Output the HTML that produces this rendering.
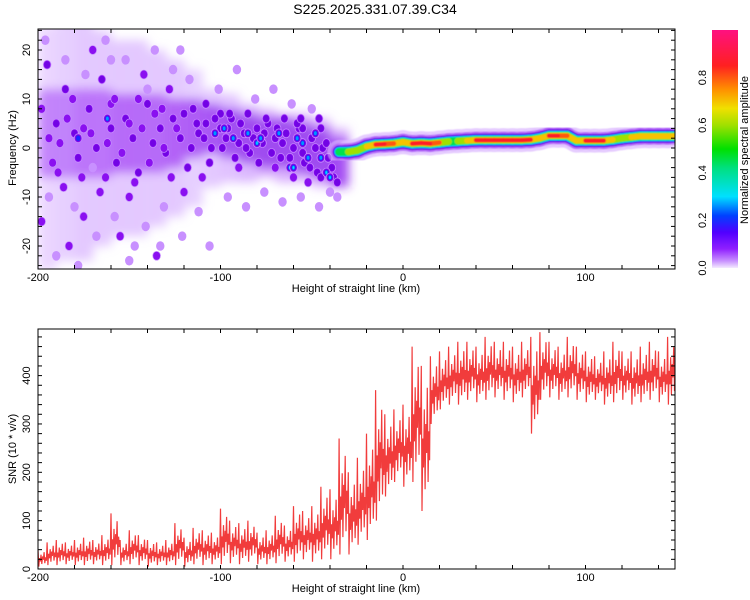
<!DOCTYPE html>
<html><head><meta charset="utf-8"><style>
body{margin:0;background:#fff;}
svg{display:block;font-family:"Liberation Sans",sans-serif;}
</style></head><body>
<svg id="c" width="750" height="600" viewBox="0 0 750 600" xmlns="http://www.w3.org/2000/svg">
<defs>
<linearGradient id="cbg" x1="0" y1="1" x2="0" y2="0">
<stop offset="0" stop-color="#f4eaff"/><stop offset="0.03" stop-color="#c890ff"/><stop offset="0.08" stop-color="#9020ff"/>
<stop offset="0.15" stop-color="#5000ff"/><stop offset="0.22" stop-color="#0040ff"/><stop offset="0.3" stop-color="#00e0ff"/>
<stop offset="0.42" stop-color="#00e080"/><stop offset="0.5" stop-color="#00e000"/><stop offset="0.6" stop-color="#a0e000"/>
<stop offset="0.67" stop-color="#f0e000"/><stop offset="0.75" stop-color="#ff9000"/><stop offset="0.85" stop-color="#ff2020"/>
<stop offset="1" stop-color="#ff1080"/></linearGradient>
<clipPath id="clipTop"><rect x="38" y="29" width="637" height="240"/></clipPath>
<clipPath id="clipBot"><rect x="38" y="329" width="637" height="240"/></clipPath>
<filter id="blur" x="-20%" y="-20%" width="140%" height="140%"><feGaussianBlur stdDeviation="5"/></filter>
<filter id="blur2" x="-50%" y="-50%" width="200%" height="200%"><feGaussianBlur stdDeviation="0.6"/></filter>
</defs>
<text x="375" y="14" font-size="14" text-anchor="middle">S225.2025.331.07.39.C34</text>
<g clip-path="url(#clipTop)">
<g id="cloudG" filter="url(#blur)"></g>
<g id="blobG"></g>
<g id="ridgeG" filter="url(#blur2)"></g>
</g>
<g id="botG" clip-path="url(#clipBot)"></g>
<g id="axesG"></g>
<rect x="712" y="30" width="26" height="238" fill="url(#cbg)"/>
</svg>
<script>
// ---- data ----
const cloudKm=[-200,-190,-180,-170,-160,-150,-140,-130,-120,-110,-100,-90,-80,-70,-60,-50,-40];
const cloudCenter=[0,2,2,2,2,2,2,2,2,2,2,1,1,0,0,-1,-2];
const cloudHalf=[25,25,25,22,20,20,18,16,14,10,9,8,7,7,7,7,6];
const cloudAmp=[0.035,0.04,0.045,0.045,0.045,0.045,0.045,0.045,0.04,0.045,0.05,0.055,0.06,0.06,0.06,0.06,0.06];
const coreCenter=[3,3,3,3,3,3,3,3,4,4,3,2,1,1,0,-1,-3];
const coreHalf=[9,9,9,9,8,8,8,7,6,5,5,5,5,5,5,5,5];
const coreAmp=[0.07,0.07,0.075,0.075,0.08,0.08,0.08,0.085,0.09,0.1,0.11,0.11,0.11,0.11,0.11,0.11,0.1];
const blobKm=[-195,-190,-185,-180,-178,-172,-168,-165,-160,-157,-152,-148,-145,-140,-137,-133,-130,-126,-122,-118,-115,-112,-108,-105,-100,-97,-94,-90,-87,-84,-80,-77,-74,-70,-67,-64,-60,-57,-54,-50,-47,-44,-41,-38,-192,-186,-175,-163,-150,-142,-128,-170,-155,-135,-183,-198,-120,-110,-90,-70,-60,-52,-100,-85,-65,-55,-45,-132,-145,-160,-175,-188,
-198,-194,-189,-184,-181,-176,-171,-166,-162,-158,-154,-150,-147,-143,-139,-136,-131,-127,-124,-120,-116,-113,-109,-106,-103,-99,-96,-92,-89,-86,-82,-79,-76,-72,-69,-66,-62,-58,-55,-51,-48,-45,-42,-39,-36,-108,-95,-75,-56,-46,
-196,-190,-185,-180,-174,-168,-163,-158,-152,-147,-141,-136,-131,-126,-121,-117,-112,-106,-101,-96,-91,-86,-81,-76,-71,-66,-61,-56,-50,-46,-40,-36,-194,-178,-170,-150,-133,-122,-160,-140,
-162,-178,-103,-98,-93,-85,-80,-78,-68,-62,-60,-55,-52,-48,-45,-42,-40,-58];
const blobHz=[17,5,12,3,-2,8,0,14,4,-3,6,2,-5,9,1,4,-1,6,2,-4,8,3,5,0,4,2,6,1,3,-1,4,1,5,2,-2,3,0,4,-3,2,-5,0,-2,-6,-3,-8,-14,-6,-10,15,12,20,-18,-22,-20,-15,-9,-6,-4,-4,-6,-7,7,7,6,4,4,8,10,9,4,1,
8,2,-5,6,10,-6,3,-9,1,10,-1,5,-7,4,-3,7,0,-6,4,7,0,5,2,-3,6,0,4,-2,5,0,2,-3,3,-1,4,1,-2,5,-1,-4,0,-6,1,-4,-7,9,7,6,6,6,
22,-22,18,-12,15,-18,22,-14,18,-20,-16,20,-12,16,-18,14,-13,-20,12,-10,16,-12,10,-9,12,-11,9,-10,8,-12,-9,-10,-10,-24,-4,-23,-20,20,18,12,
6,2,3,4,2,3,1,2,3,-4,-4,1,-2,3,-2,-5,-6,2];
const blobAmp=[0.12,0.12,0.12,0.12,0.12,0.12,0.12,0.12,0.12,0.12,0.12,0.12,0.12,0.12,0.12,0.12,0.12,0.12,0.12,0.12,0.12,0.12,0.12,0.12,0.13,0.13,0.13,0.13,0.13,0.13,0.13,0.13,0.13,0.13,0.13,0.13,0.13,0.13,0.13,0.13,0.13,0.13,0.13,0.13,0.11,0.11,0.1,0.11,0.1,0.1,0.1,0.1,0.09,0.09,0.09,0.1,0.11,0.11,0.11,0.11,0.11,0.11,0.12,0.12,0.12,0.12,0.12,0.11,0.11,0.11,0.11,0.11,
0.1,0.11,0.1,0.11,0.1,0.1,0.11,0.09,0.11,0.1,0.11,0.11,0.1,0.11,0.1,0.11,0.11,0.1,0.11,0.12,0.12,0.12,0.12,0.12,0.12,0.13,0.13,0.13,0.13,0.13,0.13,0.13,0.13,0.13,0.13,0.13,0.13,0.13,0.13,0.13,0.13,0.13,0.13,0.13,0.12,0.12,0.12,0.12,0.12,0.12,
0.05,0.05,0.05,0.05,0.05,0.05,0.05,0.05,0.05,0.05,0.05,0.05,0.05,0.05,0.05,0.05,0.05,0.05,0.05,0.05,0.05,0.05,0.05,0.05,0.05,0.05,0.05,0.05,0.05,0.05,0.05,0.05,0.05,0.05,0.05,0.05,0.05,0.05,0.05,0.05,
0.26,0.24,0.28,0.28,0.26,0.28,0.3,0.28,0.28,0.3,0.3,0.26,0.26,0.28,0.27,0.3,0.3,0.26];
const ridgeKm=[-35,-30,-25,-20,-15,-10,-5,0,5,10,15,20,25,30,35,40,45,50,55,60,65,70,75,80,85,90,95,100,105,110,115,120,125,130,135,140,145,150];
const ridgeHz=[-0.8,-0.8,-0.5,0.3,0.7,0.8,0.9,1.2,0.9,1.0,0.9,1.1,1.3,1.4,1.5,1.6,1.6,1.6,1.6,1.6,1.6,1.7,2.0,2.5,2.5,2.5,1.5,1.5,1.5,1.5,1.7,2.0,2.2,2.4,2.4,2.4,2.4,2.4];
const ridgeAmp=[0.4,0.6,0.65,0.7,0.85,0.9,0.8,0.65,0.85,0.92,0.92,0.75,0.55,0.6,0.7,0.85,0.93,0.93,0.93,0.93,0.9,0.88,0.65,0.92,0.9,0.75,0.65,0.92,0.92,0.88,0.6,0.6,0.7,0.7,0.7,0.85,0.55,0.85];
const snrKm=[-200,-195,-190,-185,-180,-175,-170,-165,-160,-155,-150,-145,-140,-135,-130,-125,-120,-115,-110,-105,-100,-95,-90,-85,-80,-75,-70,-65,-60,-55,-50,-45,-40,-35,-30,-25,-20,-15,-10,-5,0,5,10,15,20,25,30,35,40,45,50,55,60,65,70,75,80,85,90,95,100,105,110,115,120,125,130,135,140,145,150];
const snrLow=[5,8,8,10,8,8,10,8,8,8,10,8,5,8,8,8,5,10,8,10,10,12,10,15,10,10,12,15,15,20,15,20,20,30,30,50,60,100,150,180,170,180,120,300,330,340,340,350,345,350,355,350,345,355,280,350,355,350,355,350,345,350,340,345,350,340,345,350,345,340,360];
const snrHigh=[40,55,60,55,60,65,60,70,115,60,80,70,60,55,60,95,65,85,80,75,125,100,95,100,75,80,110,90,130,120,130,170,165,270,200,230,280,370,320,330,340,460,420,440,450,460,470,470,460,480,470,470,460,470,480,490,470,460,480,460,450,440,450,470,450,450,460,470,450,480,470];
const xTicks=[-200,-100,0,100];
const fTicks=[-20,-10,0,10,20];
const sTicks=[0,100,200,300,400];
const cbTicks=[0.0,0.2,0.4,0.6,0.8];
// ---- scales ----
const X=k=>38+(k+200)*1.825;
const YF=f=>148-f*4.9;
const YS=v=>569-v*0.4835;
const YC=a=>268-a*(238/1.0);
const cm=[[0,'#ffffff'],[0.02,'#ecdaff'],[0.05,'#c890ff'],[0.09,'#8a10f0'],[0.13,'#6a00e0'],[0.18,'#3000ff'],[0.22,'#0050ff'],[0.3,'#00e0ff'],[0.42,'#00e080'],[0.5,'#00e000'],[0.6,'#a0e000'],[0.67,'#f0e000'],[0.75,'#ff9000'],[0.85,'#ff2020'],[1,'#ff1080']];
function hx(c){return[1,3,5].map(i=>parseInt(c.substr(i,2),16));}
function cmap(a){for(let i=1;i<cm.length;i++){if(a<=cm[i][0]){const t=(a-cm[i-1][0])/(cm[i][0]-cm[i-1][0]);const p=hx(cm[i-1][1]),q=hx(cm[i][1]);return 'rgb('+p.map((v,j)=>Math.round(v+(q[j]-v)*t)).join(',')+')';}}return cm[cm.length-1][1];}
const NS='http://www.w3.org/2000/svg';
function mk(tag,at,parent){const e=document.createElementNS(NS,tag);for(const k in at)e.setAttribute(k,at[k]);parent.appendChild(e);return e;}
const cloudG=document.getElementById('cloudG'),blobG=document.getElementById('blobG'),ridgeG=document.getElementById('ridgeG'),botG=document.getElementById('botG'),axesG=document.getElementById('axesG');
// cloud + core
for(let i=0;i<cloudKm.length;i++){
  const r=mk('rect',{x:X(cloudKm[i]),y:YF(cloudCenter[i]+cloudHalf[i]),width:10*1.825+0.5,height:cloudHalf[i]*2*4.9,fill:cmap(cloudAmp[i]),opacity:0.55},cloudG);
  
  
  const c=mk('rect',{x:X(cloudKm[i]),y:YF(coreCenter[i]+coreHalf[i]),width:10*1.825+0.5,height:coreHalf[i]*2*4.9,fill:cmap(coreAmp[i]),opacity:0.6},cloudG);
  
  
}
// blobs
for(let i=0;i<blobKm.length;i++){
  const a=blobAmp[i];const cx=X(blobKm[i]),cy=YF(blobHz[i]);
  const lv=[0.05,0.09,0.12,0.2,0.26,0.3].filter(l=>l<=a+0.001);
  lv.forEach((l,j)=>{
    const e=mk('ellipse',{cx:cx,cy:cy,rx:4.2-j*0.7,ry:4.8-j*0.7,fill:cmap(l)},blobG);
    
    
  });
}
// ridge
const levels=[[0.03,24],[0.07,17],[0.12,13],[0.2,11],[0.3,9.5],[0.45,8],[0.6,6.5],[0.7,5.4],[0.8,4.6],[0.86,3.8]];
levels.forEach(([l,w])=>{
  for(let i=0;i<ridgeKm.length-1;i++){
    const a=(ridgeAmp[i]+ridgeAmp[i+1])/2;
    if(a<l)continue;
    const e=mk('line',{x1:X(ridgeKm[i]),y1:YF(ridgeHz[i]),x2:X(ridgeKm[i+1]),y2:YF(ridgeHz[i+1]),stroke:cmap(l),'stroke-width':w,'stroke-linecap':'round',opacity:l<0.1?0.55:1},ridgeG);
    
    
  }
});
// SNR line
let pts=[];
const mix=[1,0,0.5,0.3,0.7,0.15,0.6,0.4,0.85,0.2,0.55,0.35];
for(let i=0;i<snrKm.length;i++){
  const h=snrHigh[i],l=snrLow[i];
  mix.forEach((m,j)=>pts.push(X(snrKm[i]+j*5/mix.length).toFixed(1)+','+YS(l+m*(h-l)).toFixed(1)));
}
const pl=mk('polyline',{points:pts.join(' '),fill:'none',stroke:'#f03232','stroke-width':1.2,opacity:0.95},botG);


// axes
function frame(y0,y1,name){
  const r=mk('rect',{x:38,y:y0,width:637,height:y1-y0,fill:'none',stroke:'#000','stroke-width':1},axesG);
  
  
  for(let k=-200;k<=150;k+=20){const L=4;
    mk('line',{x1:X(k),y1:y1,x2:X(k),y2:y1-L,stroke:'#000'},axesG);
    mk('line',{x1:X(k),y1:y0,x2:X(k),y2:y0+L,stroke:'#000'},axesG);}
  xTicks.forEach(k=>{const t=mk('text',{x:X(k),y:y1+12,'font-size':11,'text-anchor':'middle'},axesG);t.textContent=k;
    
    });
  const t=mk('text',{x:356,y:y1+23,'font-size':11,'text-anchor':'middle'},axesG);t.textContent='Height of straight line (km)';
  
  
}
frame(29,269,'spectrogram-frame');frame(329,569,'snr-frame');
for(let f=-24;f<=24;f+=2){const L=4;mk('line',{x1:38,y1:YF(f),x2:38+L,y2:YF(f),stroke:'#000'},axesG);mk('line',{x1:675,y1:YF(f),x2:675-L,y2:YF(f),stroke:'#000'},axesG);}
fTicks.forEach(f=>{const t=mk('text',{x:0,y:0,'font-size':11,'text-anchor':'middle',transform:'translate(30,'+YF(f)+') rotate(-90)'},axesG);t.textContent=f;
  
  });
let t=mk('text',{x:0,y:0,'font-size':11,'text-anchor':'middle',transform:'translate(16,148) rotate(-90)'},axesG);t.textContent='Frequency (Hz)';


for(let v=0;v<=480;v+=20){const L=4;mk('line',{x1:38,y1:YS(v),x2:38+L,y2:YS(v),stroke:'#000'},axesG);mk('line',{x1:675,y1:YS(v),x2:675-L,y2:YS(v),stroke:'#000'},axesG);}
sTicks.forEach(v=>{const t=mk('text',{x:0,y:0,'font-size':11,'text-anchor':'middle',transform:'translate(30,'+YS(v)+') rotate(-90)'},axesG);t.textContent=v;
  
  });
t=mk('text',{x:0,y:0,'font-size':11,'text-anchor':'middle',transform:'translate(16,449) rotate(-90)'},axesG);t.textContent='SNR (10 * v/v)';


cbTicks.forEach(a=>{const t=mk('text',{x:0,y:0,'font-size':11,'text-anchor':'middle',transform:'translate(706,'+YC(a)+') rotate(-90)'},axesG);t.textContent=a.toFixed(1);
  
  });
t=mk('text',{x:0,y:0,'font-size':11,'text-anchor':'middle',transform:'translate(748,150) rotate(-90)'},axesG);t.textContent='Normalized spectral amplitude';


</script>
</body></html>
